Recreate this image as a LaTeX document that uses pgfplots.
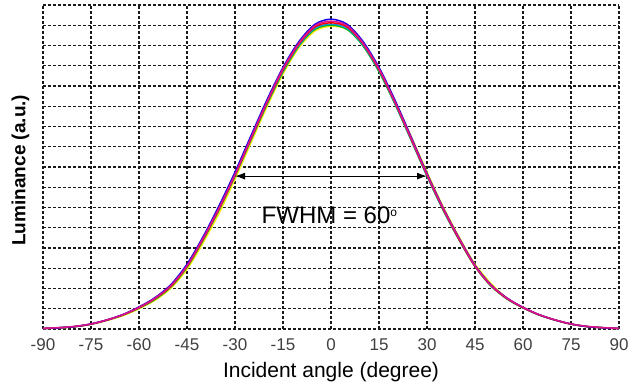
\documentclass[border=0pt]{standalone}
\usepackage{fontspec}
\setmainfont{Liberation Sans}
\usepackage{pgfplots}
\pgfplotsset{compat=1.18}
\usetikzlibrary{arrows.meta}
\begin{document}
\begin{tikzpicture}
\begin{axis}[
  at={(0,0)}, anchor=south west,
  scale only axis, width=288pt, height=162pt,
  xmin=-90, xmax=90, ymin=0, ymax=16,
  xtick={-90,-75,...,90},
  ytick={0,1,...,16}, yticklabels={},
  major tick length=0pt,
  axis line style={draw=none},
  grid=major,
  grid style={black!90, line width=0.6pt, dash pattern=on 1.5pt off 1pt},
  /pgf/number format/assume math mode=true,
  xticklabel style={font=\fontsize{8.5}{9}\selectfont, text=black!75, yshift=-1.5pt},
  xlabel={Incident angle (degree)},
  ylabel={\bfseries Luminance (a.u.)},
  every axis x label/.style={at={(axis description cs:0.5,-0.133)}, anchor=center, font=\fontsize{10.5}{11}\selectfont},
  every axis y label/.style={at={(axis description cs:-0.039,0.49)}, anchor=center, rotate=90, font=\fontsize{9.5}{10}\selectfont},
  every axis plot/.append style={line width=0.75pt, smooth, no markers},
  clip=false,
]
% yellow
\addplot[color=yellow!90!orange] coordinates {
(-90,0.02) (-85,0.05) (-80,0.11) (-75,0.23) (-70,0.42) (-65,0.66) (-60,1.0) (-55,1.42) (-50,2.02) (-45,2.95) (-40,4.25) (-35,5.72) (-30,7.4) (-25,9.2) (-20,10.98) (-15,12.6) (-10,13.9) (-5,14.72) (0,14.95) (5,14.8) (10,14.02) (15,12.8) (20,11.25) (25,9.52) (30,7.75) (35,6.05) (40,4.55) (45,3.2) (50,2.25) (55,1.52) (60,1.06) (65,0.7) (70,0.45) (75,0.25) (80,0.12) (85,0.06) (90,0.02)};
% green
\addplot[color=green!75!black] coordinates {
(-90,0.02) (-85,0.06) (-80,0.12) (-75,0.24) (-70,0.44) (-65,0.69) (-60,1.03) (-55,1.46) (-50,2.08) (-45,3.05) (-40,4.38) (-35,5.88) (-30,7.55) (-25,9.34) (-20,11.1) (-15,12.7) (-10,13.98) (-5,14.8) (0,15.0) (5,14.8) (10,13.98) (15,12.7) (20,11.1) (25,9.34) (30,7.55) (35,5.88) (40,4.4) (45,3.08) (50,2.12) (55,1.48) (60,1.04) (65,0.69) (70,0.44) (75,0.24) (80,0.12) (85,0.06) (90,0.02)};
% cyan
\addplot[color=cyan!80!blue] coordinates {
(-90,0.02) (-85,0.06) (-80,0.12) (-75,0.24) (-70,0.44) (-65,0.7) (-60,1.05) (-55,1.5) (-50,2.12) (-45,3.1) (-40,4.42) (-35,5.92) (-30,7.58) (-25,9.38) (-20,11.15) (-15,12.75) (-10,14.02) (-5,14.85) (0,15.05) (5,14.85) (10,14.02) (15,12.75) (20,11.13) (25,9.36) (30,7.56) (35,5.9) (40,4.42) (45,3.1) (50,2.14) (55,1.5) (60,1.05) (65,0.7) (70,0.44) (75,0.24) (80,0.12) (85,0.06) (90,0.02)};
% red
\addplot[color=red] coordinates {
(-90,0.02) (-85,0.06) (-80,0.12) (-75,0.24) (-70,0.44) (-65,0.7) (-60,1.05) (-55,1.5) (-50,2.12) (-45,3.1) (-40,4.43) (-35,5.93) (-30,7.6) (-25,9.4) (-20,11.18) (-15,12.8) (-10,14.08) (-5,14.92) (0,15.12) (5,14.92) (10,14.08) (15,12.8) (20,11.18) (25,9.4) (30,7.6) (35,5.93) (40,4.43) (45,3.1) (50,2.14) (55,1.5) (60,1.05) (65,0.7) (70,0.44) (75,0.24) (80,0.12) (85,0.06) (90,0.02)};
% blue
\addplot[color=blue!80!violet] coordinates {
(-90,0.02) (-85,0.06) (-80,0.12) (-75,0.25) (-70,0.45) (-65,0.72) (-60,1.09) (-55,1.55) (-50,2.2) (-45,3.2) (-40,4.55) (-35,6.08) (-30,7.75) (-25,9.55) (-20,11.32) (-15,12.92) (-10,14.2) (-5,15.05) (0,15.3) (5,15.05) (10,14.2) (15,12.92) (20,11.3) (25,9.5) (30,7.68) (35,6.0) (40,4.5) (45,3.15) (50,2.18) (55,1.53) (60,1.07) (65,0.71) (70,0.45) (75,0.25) (80,0.12) (85,0.06) (90,0.02)};
% magenta
\addplot[color=magenta!85!violet] coordinates {
(-90,0.03) (-85,0.07) (-80,0.13) (-75,0.25) (-70,0.45) (-65,0.71) (-60,1.07) (-55,1.52) (-50,2.15) (-45,3.12) (-40,4.47) (-35,5.97) (-30,7.63) (-25,9.44) (-20,11.22) (-15,12.85) (-10,14.12) (-5,14.98) (0,15.2) (5,14.98) (10,14.12) (15,12.85) (20,11.22) (25,9.44) (30,7.63) (35,5.97) (40,4.47) (45,3.12) (50,2.16) (55,1.52) (60,1.07) (65,0.71) (70,0.45) (75,0.25) (80,0.13) (85,0.07) (90,0.03)};
% FWHM arrow
\draw[{Latex[length=5pt,width=3.5pt]}-{Latex[length=5pt,width=3.5pt]}, line width=0.5pt, black] (axis cs:-30,7.55) -- (axis cs:30,7.55);
\node[font=\fontsize{12}{13}\selectfont, anchor=center] at (axis cs:-0.5,5.6) {FWHM = 60\raisebox{0.55ex}{\fontsize{6}{6}\selectfont o}};
\end{axis}
\pgfresetboundingbox
\path (-21.5pt,-30pt) rectangle (300pt,164.5pt);
\end{tikzpicture}
\end{document}
